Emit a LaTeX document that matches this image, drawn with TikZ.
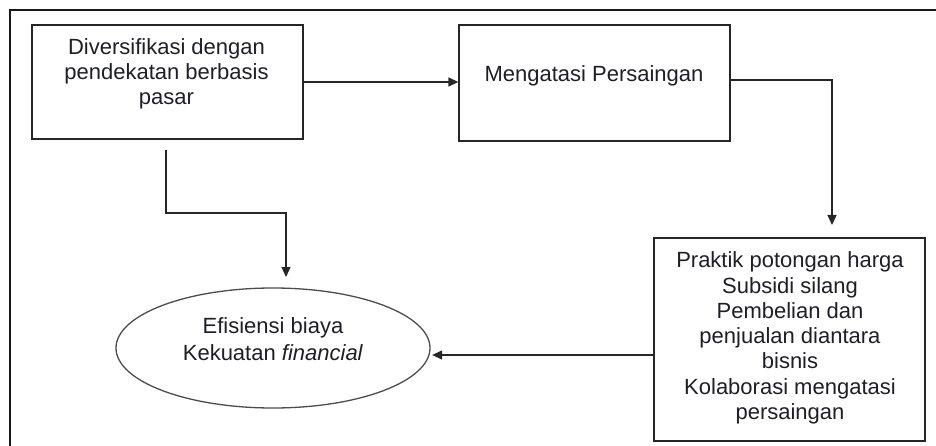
\documentclass[tikz,border=0pt]{standalone}
\usepackage{fontspec}
\setmainfont{Liberation Sans}
\usetikzlibrary{arrows.meta,shapes.geometric,calc}
\definecolor{ink}{HTML}{1E1E28}
\begin{document}
\begin{tikzpicture}[x=1pt,y=-1pt,
  every node/.style={font=\fontsize{22}{25.3}\selectfont, text=ink},
  stepbox/.style={draw=black!85, line width=1.3pt, inner sep=0pt, minimum width=271pt},
  goal/.style={ellipse, draw=black!70, line width=1.3pt, inner sep=0pt, minimum width=314pt, minimum height=120pt},
  txt/.style={align=center, inner sep=0pt, anchor=base},
  link/.style={draw=black!85, line width=1.3pt},
  arrow/.style={link, -{Triangle[length=10pt,width=9pt]}}]
\useasboundingbox (0,0) rectangle (936,446);
% outer frame (top and left edges)
\draw[line width=2.6pt, black!90] (10,446) -- (10,10) -- (936,10);
% boxes; multi-line texts are placed by the baseline of their last line
\node[stepbox, minimum height=114pt] (b1) at (167.5,82) {};
\node[txt] (t1) at (166.5,105) {Diversifikasi dengan\\pendekatan berbasis\\pasar};
\node[stepbox, minimum height=116pt] (b2) at (594.5,83) {};
\node[txt] (t2) at (594,81.5) {Mengatasi Persaingan};
\node[stepbox, minimum height=203pt] (b3) at (789.5,339.5) {};
\node[txt] (t3) at (790,419.5) {Praktik potongan harga\\Subsidi silang\\Pembelian dan\\penjualan diantara\\bisnis\\Kolaborasi mengatasi\\persaingan};
\node[goal] (e) at (273,348) {};
\node[txt, font=\fontsize{22}{27}\selectfont] (t4) at (273,360) {Efisiensi biaya\\Kekuatan \textit{financial}};
% connectors
\coordinate (b2out) at ([yshift=3pt]b2.east);
\coordinate (b3top) at (832,238);
\coordinate (bend) at (166,213);
\coordinate (eIn) at (286,288);
\coordinate (b3out) at ([yshift=-15.5pt]b3.west);
\draw[arrow] (b1.east) -- (b1.east -| b2.west);
\draw[arrow, shorten >=13pt] (b2out) -| (b3top);
\draw[arrow, shorten <=10pt, shorten >=11pt] (bend |- b1.south) -- (bend) -| (eIn);
\draw[arrow, shorten >=1.5pt] (b3out) -- (b3out -| e.east);
\end{tikzpicture}
\end{document}
